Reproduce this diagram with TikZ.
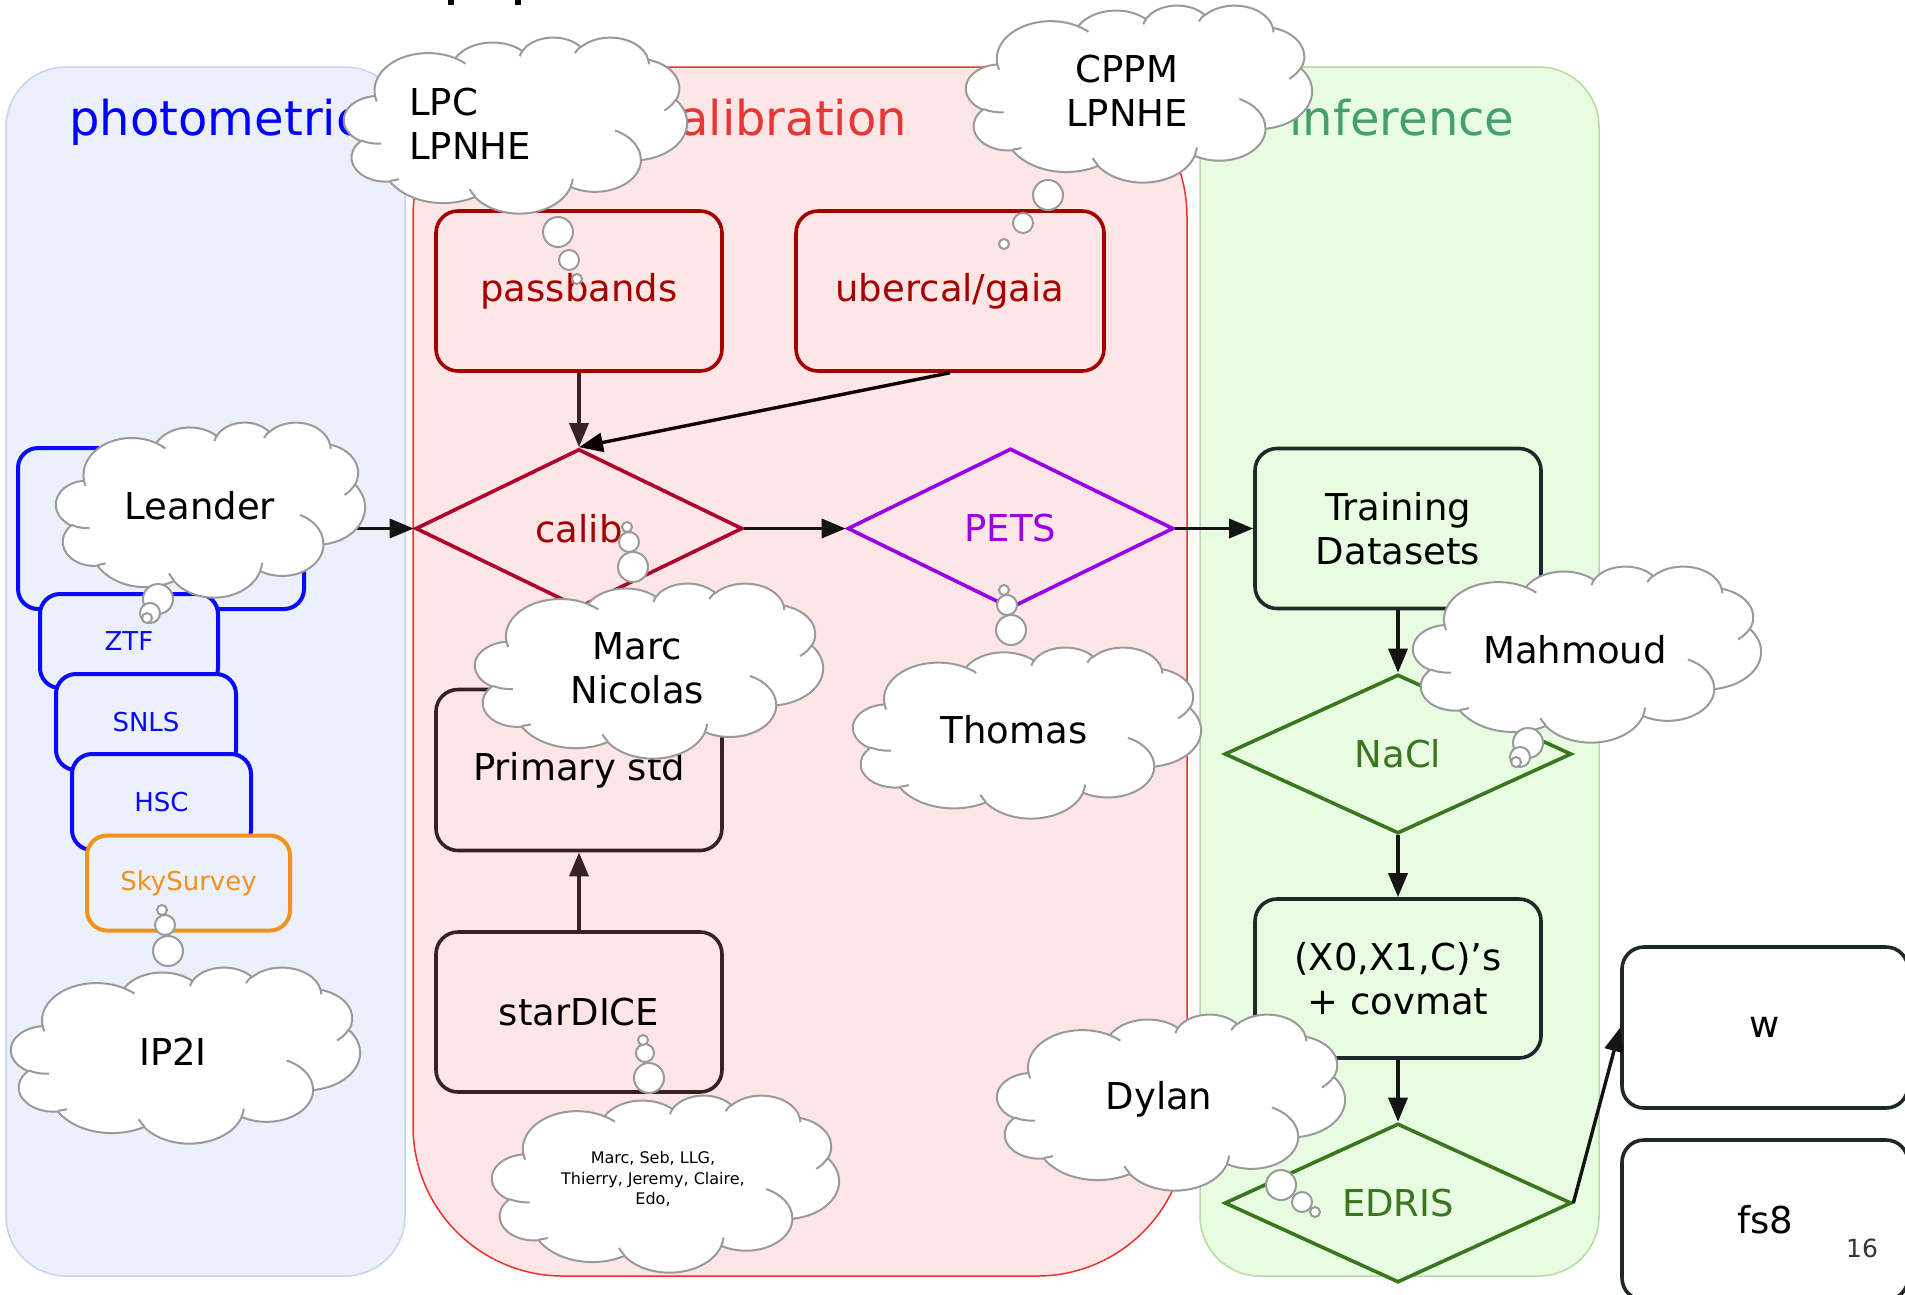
\documentclass[tikz,border=0pt]{standalone}
\usepackage{fontspec}
\setmainfont{DejaVu Sans}
\usetikzlibrary{shapes.geometric,arrows.meta}
\definecolor{bluefill}{HTML}{EBF0FB}
\definecolor{blueline}{HTML}{C3D4F5}
\definecolor{redfill}{HTML}{FFE6E6}
\definecolor{redline}{HTML}{EE3030}
\definecolor{greenfill}{HTML}{E8FCE2}
\definecolor{greenline}{HTML}{B5DBA5}
\definecolor{phottxt}{HTML}{0000FF}
\definecolor{caltxt}{HTML}{E83535}
\definecolor{inftxt}{HTML}{45A06D}
\definecolor{darkred}{HTML}{A50000}
\definecolor{crimson}{HTML}{B0002C}
\definecolor{petsc}{HTML}{9A00E8}
\definecolor{brownline}{HTML}{362224}
\definecolor{slate}{HTML}{1E2828}
\definecolor{leafgreen}{HTML}{3A761E}
\definecolor{survblue}{HTML}{0A0AFF}
\definecolor{orangec}{HTML}{F0921E}
\definecolor{cloudgrey}{HTML}{9A9A9A}
\definecolor{pagegrey}{HTML}{333333}
\newcommand\varc[4]{arc[x radius=#1, y radius=#2, start angle={atan2(#1*sin(#3),#2*cos(#3))}, delta angle={mod(atan2(#1*sin(#3+#4),#2*cos(#3+#4))-atan2(#1*sin(#3),#2*cos(#3))+720,360)}]}
\newcommand\ocloud[4]{\begin{scope}[shift={(#1,#2)},xscale=#3/432,yscale=#4/432,shift={(-216,-216)}]
\filldraw[cloudline,fill=white] (39,143.7) \varc{67.53}{91.90}{-190.4875}{123.7805} \varc{53.33}{72.67}{-144.1024}{89.9452} \varc{43.65}{59.45}{-145.8079}{99.7230} \varc{48.57}{65.95}{-130.9861}{117.2417} \varc{53.33}{72.73}{-78.7089}{109.0269} \varc{67.75}{92.20}{-46.2673}{130.2690} \varc{57.85}{78.67}{0.6250}{114.0333} \varc{67.52}{92.15}{22.4516}{115.1726} \varc{77.20}{105.43}{66.2426}{75.7110} \varc{43.60}{59.18}{-274.9421}{146.7356} \varc{43.45}{59.45}{-246.8285}{152.5189} -- cycle;
\draw[cloudline] (46.93,261.77) \varc{43.45}{59.45}{86.742}{26.4295}
 (69.28,348.99) \varc{43.60}{59.18}{73.6105}{11.4475}
 (164.78,390.90) \varc{67.52}{92.15}{137.6242}{14.0811}
 (288.27,347.51) \varc{67.52}{92.15}{6.4533}{15.9984}
 (341.29,229.54) \varc{57.85}{78.67}{-70.2924}{70.9174}
 (417.98,153.54) \varc{53.33}{72.73}{30.318}{27.7515}
 (383.24,54.26) \varc{48.57}{65.95}{-13.7443}{14.8589}
 (290.78,39.52) \varc{48.57}{65.95}{-149.1815}{18.1954}
 (221.41,47.20) \varc{43.65}{59.45}{-163.4943}{17.6864}
 (140.00,51.92) \varc{67.53}{91.90}{-66.707}{12.3194}
 (41.27,157.89) \varc{67.53}{91.90}{157.6544}{11.8582};
\end{scope}}
\begin{document}
\begin{tikzpicture}[x=1pt,y=-1pt,
  rbox/.style={draw, rounded corners=22pt, line width=3.6pt, minimum width=286pt, minimum height=160pt, inner sep=0pt, align=center, font=\fontsize{37}{44}\selectfont},
  sbox/.style={draw=survblue, fill=bluefill, rounded corners=20pt, line width=4pt, inner sep=0pt, text=survblue, font=\fontsize{26}{31}\selectfont},
  dia/.style={diamond, draw, line width=3.6pt, inner sep=0pt, font=\fontsize{37}{44}\selectfont},
  arr/.style={-{Triangle[length=24pt,width=19pt]}, line width=3.4pt, draw=black!92},
  cloudline/.style={draw=cloudgrey, line width=2pt},
  bub/.style={draw=cloudgrey, fill=white, line width=2pt},
  ctext/.style={font=\fontsize{37}{44}\selectfont, align=center, inner sep=0pt},
  lanetitle/.style={anchor=base, font=\fontsize{48}{58}\selectfont, inner sep=0pt}]
\useasboundingbox (0,0) rectangle (1905,1294);
\clip (0,0) rectangle (1905,1294);
\fill[white] (0,0) rectangle (1905,1294);
% partial title descenders
\fill[black] (448,0) rectangle (454,5);
\fill[black] (515,0) rectangle (521,5);
% lanes
\draw[fill=bluefill, draw=blueline, line width=1.5pt, rounded corners=60pt] (6,67) rectangle (405,1276);
\draw[fill=redfill, draw=redline, line width=1.5pt, rounded corners=150pt] (413,67) rectangle (1187,1276);
\draw[fill=greenfill, draw=greenline, line width=1.5pt, rounded corners=60pt] (1200,67) rectangle (1599,1276);
\node[lanetitle, text=phottxt] (tphot) at (216,135) {photometric};
\node[lanetitle, text=caltxt] (tcal) at (780,135) {calibration};
\node[lanetitle, text=inftxt] (tinf) at (1402,135) {inference};
% photometric stack
\node[sbox, minimum width=286pt, minimum height=161pt] (big) at (161,528.5) {};
\node[sbox, minimum width=178pt, minimum height=94pt] (ztf) at (129,641) {ZTF};
\node[sbox, minimum width=180pt, minimum height=96pt] (snls) at (146,722) {SNLS};
\node[sbox, minimum width=179pt, minimum height=96pt] (hsc) at (161.5,802) {HSC};
\node[sbox, draw=orangec, text=orangec, minimum width=203pt, minimum height=95pt] (sky) at (188.5,883) {SkySurvey};
% calibration
\node[rbox, draw=darkred, text=darkred] (pass) at (579,291) {passbands};
\node[rbox, draw=darkred, text=darkred, minimum width=308pt] (uber) at (950,291) {ubercal/gaia};
\node[dia, draw=crimson, text=darkred, minimum width=327pt, minimum height=159pt] (calib) at (579,528.5) {calib};
\node[dia, draw=petsc, text=petsc, minimum width=326pt, minimum height=160pt] (pets) at (1010.5,528.5) {PETS};
\node[rbox, draw=brownline, minimum height=161pt] (prim) at (579,770) {Primary std};
\node[rbox, draw=brownline] (star) at (579,1012) {starDICE};
% inference
\node[rbox, draw=slate, fill=greenfill] (train) at (1398,528.5) {Training\\Datasets};
\node[dia, draw=leafgreen, text=leafgreen, fill=greenfill, minimum width=347pt, minimum height=159pt] (nacl) at (1398,754) {NaCl};
\node[rbox, draw=slate, fill=greenfill, minimum height=159pt] (xbox) at (1398,978.5) {(X0,X1,C)’s\\+ covmat};
\node[dia, draw=leafgreen, text=leafgreen, fill=greenfill, minimum width=347pt, minimum height=159pt] (edris) at (1398,1203) {EDRIS};
\node[rbox, draw=slate, fill=white, minimum height=161pt] (wbox) at (1765,1027.5) {w};
\node[rbox, draw=slate, fill=white] (fsbox) at (1765,1220) {fs8};
\node[font=\fontsize{25}{30}\selectfont, text=pagegrey, inner sep=0pt] (pnum) at (1862,1248) {16};
% arrows
\draw[arr, draw=brownline] (pass.south) -- (calib.north);
\draw[arr, draw=black!95!red] (uber.south) -- (calib.north);
\draw[arr] (big.east) -- (calib.west);
\draw[arr] (calib.east) -- (pets.west);
\draw[arr] (pets.east) -- (train.west);
\draw[arr, draw=brownline] (star.north) -- (prim.south);
\draw[arr] (train.south) -- (nacl.north);
\draw[arr] (nacl.south) -- (xbox.north);
\draw[arr] (xbox.south) -- (edris.north);
\draw[arr] (edris.east) -- (wbox.west);
% clouds
\ocloud{515.5}{125}{343}{176}
\node[ctext, align=left, anchor=west] (clpc) at (409,124) {LPC\\LPNHE};
\filldraw[bub] (558,232) circle[radius=15];
\filldraw[bub] (569,260) circle[radius=10];
\filldraw[bub] (577,279) circle[radius=5];
\ocloud{1139}{93.5}{346}{177}
\node[ctext] (ccppm) at (1127,91) {CPPM\\LPNHE};
\filldraw[bub] (1048,195) circle[radius=15];
\filldraw[bub] (1023,223) circle[radius=10];
\filldraw[bub] (1004,244) circle[radius=5];
\ocloud{210.5}{509.5}{309}{175}
\node[ctext] (cleander) at (200,506) {Leander};
\filldraw[bub] (158,599) circle[radius=15];
\filldraw[bub] (150,613) circle[radius=10];
\filldraw[bub] (147,618) circle[radius=5];
\ocloud{185.5}{1055}{349}{176}
\node[ctext] (cip2i) at (173,1052) {IP2I};
\filldraw[bub] (168,951) circle[radius=15];
\filldraw[bub] (165,925) circle[radius=10];
\filldraw[bub] (162,910) circle[radius=5];
\ocloud{649}{670.5}{348}{175}
\node[ctext] (cmarc) at (637.5,668) {Marc\\Nicolas};
\filldraw[bub] (633,567) circle[radius=15];
\filldraw[bub] (629,542) circle[radius=10];
\filldraw[bub] (627,527) circle[radius=5];
\ocloud{1027}{732.5}{348}{171}
\node[ctext] (cthomas) at (1014,730) {Thomas};
\filldraw[bub] (1011,630) circle[radius=15];
\filldraw[bub] (1007,605) circle[radius=10];
\filldraw[bub] (1004,590) circle[radius=5];
\ocloud{1587}{654}{348}{176}
\node[ctext] (cmahmoud) at (1575,650) {Mahmoud};
\filldraw[bub] (1528,743) circle[radius=15];
\filldraw[bub] (1520,757) circle[radius=10];
\filldraw[bub] (1516,762) circle[radius=5];
\ocloud{1171}{1102}{348}{176}
\node[ctext] (cdylan) at (1159,1099) {Dylan};
\filldraw[bub] (1281,1185) circle[radius=15];
\filldraw[bub] (1302,1202) circle[radius=10];
\filldraw[bub] (1315,1212) circle[radius=5];
\ocloud{665.5}{1183.5}{347}{177}
\node[ctext, font=\fontsize{16}{20.5}\selectfont] (cteam) at (653,1179) {Marc, Seb, LLG,\\Thierry, Jeremy, Claire,\\Edo,};
\filldraw[bub] (649,1078) circle[radius=15];
\filldraw[bub] (645,1053) circle[radius=9];
\filldraw[bub] (643,1040) circle[radius=5];
\end{tikzpicture}
\end{document}
